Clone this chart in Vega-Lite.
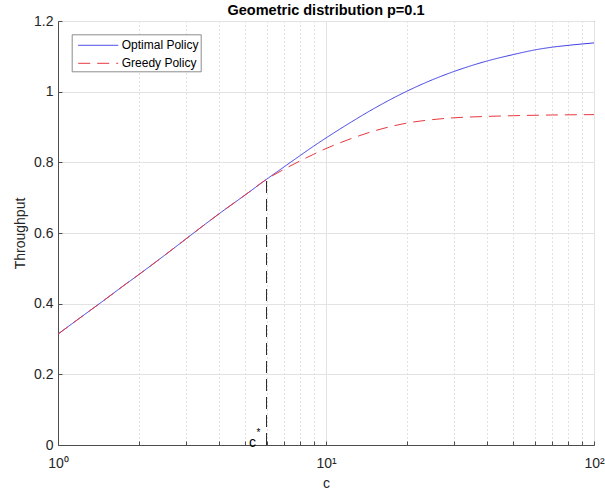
{
  "$schema": "https://vega.github.io/schema/vega-lite/v6.json",
  "width": 536,
  "height": 424,
  "autosize": {"type": "none"},
  "padding": {"left": 58, "top": 21, "right": 11, "bottom": 45},
  "background": "white",
  "config": {
    "font": "Liberation Sans",
    "view": {"stroke": "#4d4d4d", "strokeWidth": 1},
    "axis": {
      "labelFont": "Liberation Sans",
      "titleFont": "Liberation Sans",
      "labelFontSize": 14,
      "titleFontSize": 14,
      "labelColor": "#262626",
      "titleColor": "#262626",
      "titleFontWeight": "normal",
      "domainColor": "#4d4d4d",
      "tickColor": "#4d4d4d"
    }
  },
  "title": {
    "text": "Geometric distribution p=0.1",
    "fontSize": 14.5,
    "fontWeight": "bold",
    "color": "#000000",
    "font": "Liberation Sans",
    "offset": -4,
    "anchor": "middle"
  },
  "datasets": {
    "curves": [
      {"c": 1, "throughput": 0.314, "policy": "Optimal Policy"},
      {"c": 1.25, "throughput": 0.368, "policy": "Optimal Policy"},
      {"c": 1.5, "throughput": 0.412, "policy": "Optimal Policy"},
      {"c": 1.75, "throughput": 0.45, "policy": "Optimal Policy"},
      {"c": 2, "throughput": 0.482, "policy": "Optimal Policy"},
      {"c": 2.5, "throughput": 0.537, "policy": "Optimal Policy"},
      {"c": 3, "throughput": 0.583, "policy": "Optimal Policy"},
      {"c": 3.5, "throughput": 0.622, "policy": "Optimal Policy"},
      {"c": 4, "throughput": 0.655, "policy": "Optimal Policy"},
      {"c": 5, "throughput": 0.708, "policy": "Optimal Policy"},
      {"c": 6, "throughput": 0.752, "policy": "Optimal Policy"},
      {"c": 7, "throughput": 0.788, "policy": "Optimal Policy"},
      {"c": 8, "throughput": 0.819, "policy": "Optimal Policy"},
      {"c": 9, "throughput": 0.846, "policy": "Optimal Policy"},
      {"c": 10, "throughput": 0.869, "policy": "Optimal Policy"},
      {"c": 12, "throughput": 0.907, "policy": "Optimal Policy"},
      {"c": 15, "throughput": 0.951, "policy": "Optimal Policy"},
      {"c": 20, "throughput": 1.001, "policy": "Optimal Policy"},
      {"c": 25, "throughput": 1.034, "policy": "Optimal Policy"},
      {"c": 30, "throughput": 1.057, "policy": "Optimal Policy"},
      {"c": 40, "throughput": 1.087, "policy": "Optimal Policy"},
      {"c": 50, "throughput": 1.105, "policy": "Optimal Policy"},
      {"c": 60, "throughput": 1.118, "policy": "Optimal Policy"},
      {"c": 70, "throughput": 1.126, "policy": "Optimal Policy"},
      {"c": 80, "throughput": 1.131, "policy": "Optimal Policy"},
      {"c": 100, "throughput": 1.138, "policy": "Optimal Policy"},
      {"c": 1, "throughput": 0.314, "policy": "Greedy Policy"},
      {"c": 1.25, "throughput": 0.368, "policy": "Greedy Policy"},
      {"c": 1.5, "throughput": 0.412, "policy": "Greedy Policy"},
      {"c": 1.75, "throughput": 0.45, "policy": "Greedy Policy"},
      {"c": 2, "throughput": 0.482, "policy": "Greedy Policy"},
      {"c": 2.5, "throughput": 0.537, "policy": "Greedy Policy"},
      {"c": 3, "throughput": 0.583, "policy": "Greedy Policy"},
      {"c": 3.5, "throughput": 0.622, "policy": "Greedy Policy"},
      {"c": 4, "throughput": 0.655, "policy": "Greedy Policy"},
      {"c": 5, "throughput": 0.708, "policy": "Greedy Policy"},
      {"c": 6, "throughput": 0.752, "policy": "Greedy Policy"},
      {"c": 7, "throughput": 0.781, "policy": "Greedy Policy"},
      {"c": 8, "throughput": 0.804, "policy": "Greedy Policy"},
      {"c": 9, "throughput": 0.823, "policy": "Greedy Policy"},
      {"c": 10, "throughput": 0.839, "policy": "Greedy Policy"},
      {"c": 12, "throughput": 0.863, "policy": "Greedy Policy"},
      {"c": 15, "throughput": 0.888, "policy": "Greedy Policy"},
      {"c": 20, "throughput": 0.911, "policy": "Greedy Policy"},
      {"c": 25, "throughput": 0.921, "policy": "Greedy Policy"},
      {"c": 30, "throughput": 0.926, "policy": "Greedy Policy"},
      {"c": 40, "throughput": 0.93, "policy": "Greedy Policy"},
      {"c": 50, "throughput": 0.932, "policy": "Greedy Policy"},
      {"c": 70, "throughput": 0.934, "policy": "Greedy Policy"},
      {"c": 100, "throughput": 0.935, "policy": "Greedy Policy"}
    ],
    "cstar": [{"c": 6, "y0": 0, "y1": 0.752}],
    "labels": [
      {"c": 5.32, "y": 0.0057, "text": "c", "kind": "main"},
      {"c": 5.6, "y": 0.034, "text": "*", "kind": "sup"}
    ]
  },
  "layer": [
    {
      "data": {"name": "curves"},
      "mark": {"type": "line", "strokeWidth": 1, "interpolate": "monotone", "clip": true},
      "encoding": {
        "x": {
          "field": "c",
          "type": "quantitative",
          "scale": {"type": "log", "domain": [1, 100], "nice": false},
          "axis": {
            "title": "c",
            "values": [1, 2, 3, 4, 5, 6, 7, 8, 9, 10, 20, 30, 40, 50, 60, 70, 80, 90, 100],
            "labelExpr": "datum.value == 1 ? '10⁰' : datum.value == 10 ? '10¹' : datum.value == 100 ? '10²' : ''",
            "labelFlush": false,
            "labelOverlap": false,
            "labelBound": false,
            "labelPadding": 15,
            "ticks": true,
            "tickSize": -4,
            "grid": true,
            "gridColor": {"condition": {"test": "datum.value == 1 || datum.value == 10 || datum.value == 100", "value": "#e3e3e3"}, "value": "#c4c4c4"},
            "gridDash": {"condition": {"test": "datum.value == 1 || datum.value == 10 || datum.value == 100", "value": []}, "value": [1, 3]},
            "gridWidth": 1,
            "titlePadding": 6
          }
        },
        "y": {
          "field": "throughput",
          "type": "quantitative",
          "scale": {"domain": [0, 1.2], "nice": false, "zero": true},
          "axis": {
            "title": "Throughput",
            "values": [0, 0.05, 0.1, 0.15, 0.2, 0.25, 0.3, 0.35, 0.4, 0.45, 0.5, 0.55, 0.6, 0.65, 0.7, 0.75, 0.8, 0.85, 0.9, 0.95, 1, 1.05, 1.1, 1.15, 1.2],
            "labelExpr": "abs(datum.value * 5 - round(datum.value * 5)) < 0.001 ? format(datum.value, '.1~f') : ''",
            "labelOverlap": false,
            "labelFlush": false,
            "labelBound": false,
            "labelPadding": 9,
            "ticks": true,
            "tickSize": -4,
            "grid": true,
            "gridColor": {"condition": {"test": "abs(datum.value * 5 - round(datum.value * 5)) < 0.001", "value": "#e3e3e3"}, "value": "#c4c4c4"},
            "gridDash": {"condition": {"test": "abs(datum.value * 5 - round(datum.value * 5)) < 0.001", "value": []}, "value": [1, 3]},
            "gridWidth": 1,
            "titlePadding": 6
          }
        },
        "color": {
          "field": "policy",
          "type": "nominal",
          "scale": {"domain": ["Optimal Policy", "Greedy Policy"], "range": ["#3a3ae6", "#e6383f"]},
          "legend": {
            "title": null,
            "orient": "none",
            "legendX": 13.7,
            "legendY": 13.3,
            "padding": 2,
            "rowPadding": 3,
            "fillColor": "white",
            "strokeColor": "#8c8c8c",
            "symbolType": "M-0.53,0H4.18",
            "symbolSize": 289,
            "symbolStrokeWidth": 1,
            "labelOffset": 30,
            "labelFontSize": 12,
            "labelFont": "Liberation Sans",
            "labelColor": "#000000"
          }
        },
        "strokeDash": {
          "field": "policy",
          "type": "nominal",
          "scale": {"domain": ["Optimal Policy", "Greedy Policy"], "range": [[1, 0], [12, 7]]},
          "legend": {
            "title": null,
            "orient": "none",
            "legendX": 13.7,
            "legendY": 13.3,
            "padding": 2,
            "rowPadding": 3,
            "fillColor": "white",
            "strokeColor": "#8c8c8c",
            "symbolType": "M-0.53,0H4.18",
            "symbolSize": 289,
            "symbolStrokeWidth": 1,
            "labelOffset": 30,
            "labelFontSize": 12,
            "labelFont": "Liberation Sans",
            "labelColor": "#000000"
          }
        }
      }
    },
    {
      "data": {"name": "cstar"},
      "mark": {"type": "rule", "color": "#262626", "strokeWidth": 1, "strokeDash": [12, 6]},
      "encoding": {
        "x": {"field": "c", "type": "quantitative"},
        "y": {"field": "y0", "type": "quantitative"},
        "y2": {"field": "y1"}
      }
    },
    {
      "data": {"name": "labels"},
      "mark": {"type": "text", "font": "Liberation Sans", "color": "#000000", "align": "center"},
      "encoding": {
        "x": {"field": "c", "type": "quantitative"},
        "y": {"field": "y", "type": "quantitative"},
        "text": {"field": "text"},
        "size": {"field": "kind", "type": "nominal", "scale": {"domain": ["main", "sup"], "range": [14, 10]}, "legend": null},
        "baseline": {"value": "alphabetic"}
      }
    }
  ]
}
